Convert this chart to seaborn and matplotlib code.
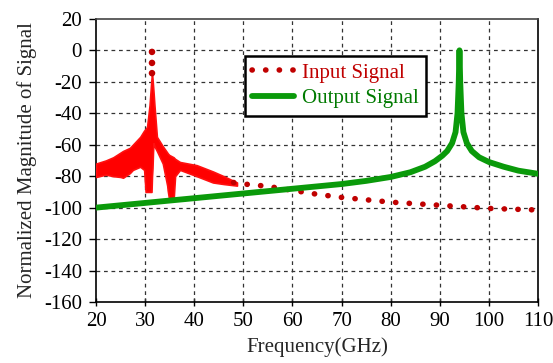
import numpy as np
import pandas as pd
import matplotlib
matplotlib.use("Agg")
import matplotlib.pyplot as plt
import seaborn as sns

# ---- data ----
# Input signal: noisy band (upper / lower envelope) around the 31 GHz peak
band_x = [20, 22, 23.5, 25, 25.5, 26.9, 27.5, 29, 29.8, 30.1, 30.4, 30.9, 31.2,
          31.3, 31.4, 31.5, 31.6, 31.7, 31.9, 32.4, 33.6, 34.5, 34.6, 34.9,
          35.8, 36.1, 37.1, 40.5, 43.8, 46, 48.7]
band_upper = [-72, -70, -68, -65, -64, -62, -60, -55, -51, -50, -48.6, -35, -22,
              -18, -15, -18, -22, -26, -35, -55, -61, -65, -65.5, -66.5,
              -68, -69, -71, -73, -77, -80, -84]
band_lower = [-80.5, -79, -80, -80.5, -81, -78, -76, -74, -76, -90, -90, -90, -90,
              -90, -80, -75, -65, -59, -61, -64, -72, -86, -89, -95,
              -95, -80, -76, -80, -84, -85, -86]

# Input signal: dots at the tip of the peak and the smooth dotted tail
peak_x = [31.4, 31.4, 31.4]
peak_y = [-1, -8, -14.5]
tail_x = [48, 50, 52, 55, 60, 65, 70, 75, 80, 85, 90, 95, 100, 105, 110]
tail_y = [-84, -85, -85.5, -86.5, -89, -91.5, -93.5, -95, -96.5, -97.5,
          -98.5, -99.5, -100.5, -101, -101.5]

# Output signal
out_x = [20, 25, 30, 35, 40, 45, 50, 55, 60, 65, 70, 75, 80, 84, 87, 89, 90.5,
         91.5, 92.5, 93.2, 93.6, 93.85, 94, 94.15, 94.4, 94.8, 95.5, 96.5, 98,
         100, 103, 106, 110]
out_y = [-100, -98.5, -97, -95.5, -94, -92.5, -91, -89.5, -88, -86.5, -85, -83,
         -80.5, -77.5, -74, -70.5, -67, -64, -59, -52, -40, -20, 0, -20, -40,
         -52, -59, -64, -68, -71, -74, -76.5, -78.5]

x_ticks = [20, 30, 40, 50, 60, 70, 80, 90, 100, 110]
y_ticks = [20, 0, -20, -40, -60, -80, -100, -120, -140, -160]

# ---- plotting ----
sns.set_theme(style="white")
plt.rcParams['font.family'] = ['Liberation Serif', 'DejaVu Serif']
plt.rcParams['axes.unicode_minus'] = False

fig = plt.figure(figsize=(5.53, 3.63), dpi=100)
ax = fig.add_axes([0.1736, 0.168, 0.7994, 0.780])

dred = "#c00000"
green = "#0a9a0a"
fs = 15
xlim = (x_ticks[0], x_ticks[-1])
ylim = (y_ticks[-1], y_ticks[0])

# dashed grid drawn from the tick positions
grid_kw = dict(colors="#333333", linestyles=(0, (3, 3)), linewidth=0.9, zorder=1)
ax.vlines(x_ticks[1:-1], ylim[0], ylim[1], **grid_kw)
ax.hlines(y_ticks[1:-1], xlim[0], xlim[1], **grid_kw)

ax.fill_between(band_x, band_lower, band_upper, color="#ff0000", lw=1.2,
                edgecolor="#ff1010", zorder=3)

sns.scatterplot(x=peak_x, y=peak_y, ax=ax, color=dred, s=22, edgecolor="none",
                zorder=4)
sns.lineplot(x=tail_x, y=tail_y, ax=ax, sort=False, estimator=None,
             label="Input Signal", color=dred, lw=4, linestyle=(0, (0.05, 2.4)),
             dash_capstyle="round", zorder=4)
sns.lineplot(x=out_x, y=out_y, ax=ax, sort=False, estimator=None,
             color=green, lw=4.2, solid_capstyle="round", solid_joinstyle="round",
             label="Output Signal", zorder=5)

ax.set_xlim(*xlim)
ax.set_ylim(*ylim)
ax.set_xticks(x_ticks)
ax.set_yticks(y_ticks)
ax.tick_params(axis="y", direction="out", length=5, width=1, labelsize=fs,
               pad=5, left=True, colors="black")
ax.tick_params(axis="x", direction="inout", length=6, width=1, labelsize=fs,
               pad=4, bottom=True, colors="black")
for s in ax.spines.values():
    s.set_visible(True)
    s.set_color("black")
    s.set_linewidth(1.2)
ax.spines["top"].set_color("#444444")

ax.set_xlabel("Frequency(GHz)", fontsize=fs, labelpad=5)
ax.set_ylabel("Normalized Magnitude of Signal", fontsize=fs, labelpad=5)

leg = ax.legend(loc="upper left", bbox_to_anchor=(0.337, 0.87), fontsize=fs,
                frameon=True, fancybox=False, handlelength=2.0, borderpad=0.35,
                handletextpad=0.4, labelspacing=0.3, borderaxespad=0)
leg.get_frame().set_edgecolor("black")
leg.get_frame().set_linewidth(1.8)
leg.get_frame().set_alpha(1)
for t, c in zip(leg.get_texts(), [dred, "#007a00"]):
    t.set_color(c)

fig.savefig("out.png", dpi=100)
